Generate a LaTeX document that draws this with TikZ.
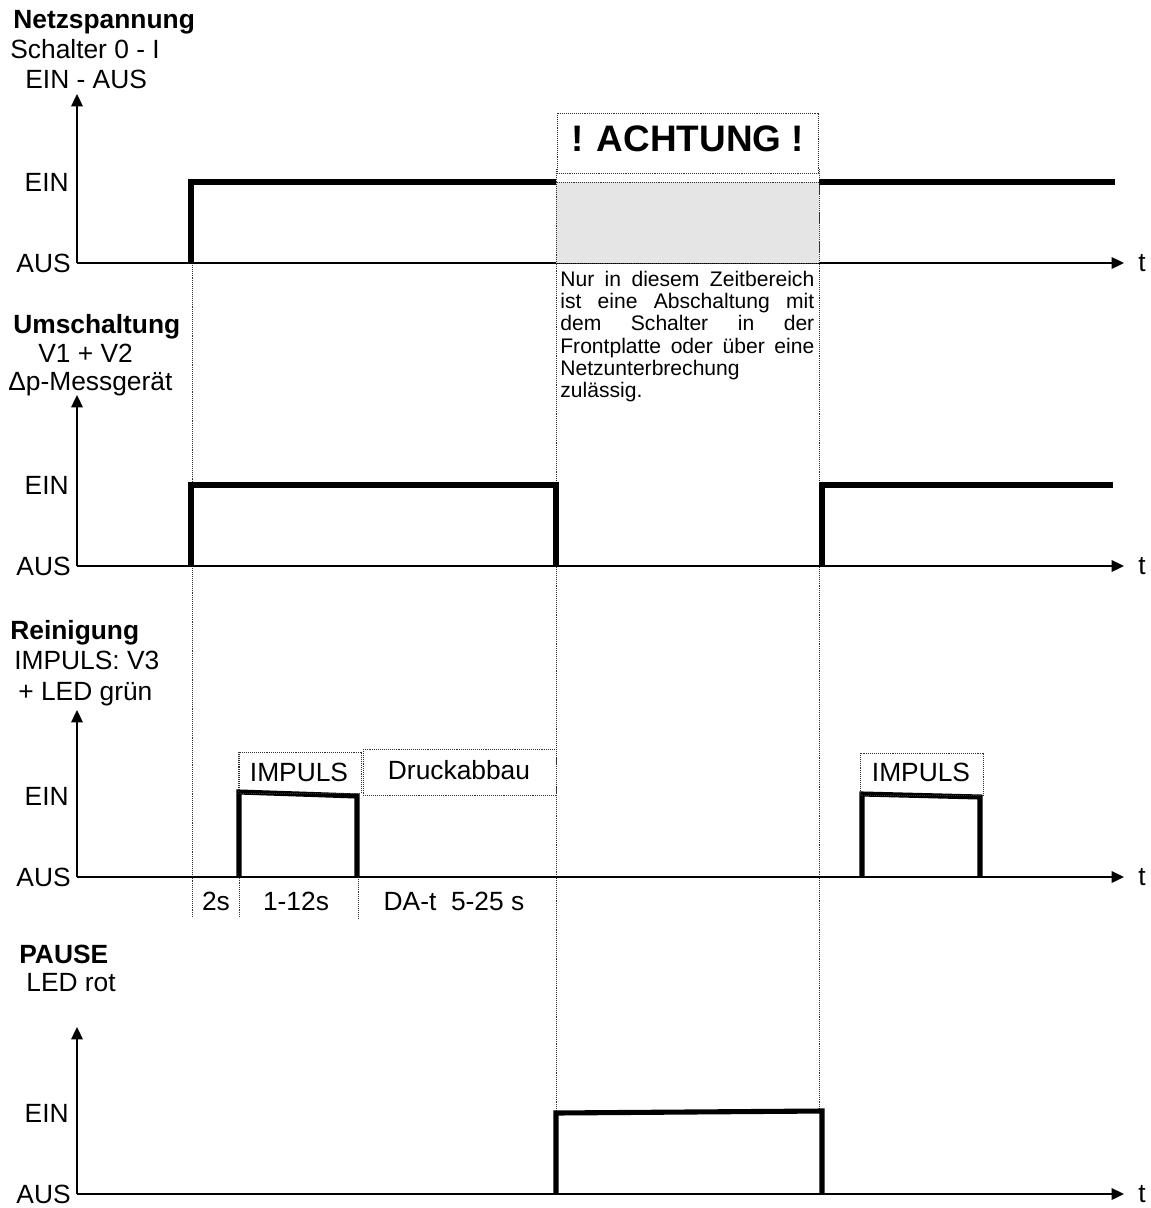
\documentclass[tikz,border=0pt]{standalone}
\usepackage{fontspec}
\setmainfont{Liberation Sans}
\usetikzlibrary{arrows.meta}

\begin{document}
\begin{tikzpicture}[x=0.02cm,y=-0.02cm,
    achse/.style={line width=1.1pt,-{Triangle[length=7pt,width=6.5pt]}},
    signal/.style={line width=2.9pt},
    hilfslinie/.style={line width=0.5pt,black!80,dash pattern=on 0.5pt off 0.6pt},
    gross/.style={inner sep=0pt,font=\fontsize{15}{17}\selectfont},
    titel/.style={inner sep=0pt,font=\fontsize{15}{17}\selectfont\bfseries},
    klein/.style={inner sep=0pt,font=\fontsize{12}{12.6}\selectfont}
]

\useasboundingbox (0,0) rectangle (1151,1208);

% Hilfslinien
\draw[hilfslinie] (192,263) -- (192,918);
\draw[hilfslinie] (239,752) -- (239,918);
\draw[hilfslinie] (358,877) -- (358,918);
\draw[hilfslinie] (556,169) -- (556,1113);
\draw[hilfslinie] (819,169) -- (819,1111);

% Achsen mit EIN / AUS / t
\foreach \aus/\oben [count=\i] in {263/94,566/395,877/710,1194/1027}{
    \draw[achse] (77,\aus) -- (77,\oben);
    \draw[achse] (77,\aus) -- (1124,\aus);
    \node[gross,anchor=east] (aus\i) at (71,\aus) {AUS};
    \node[gross,anchor=east] (ein\i) at (69,\aus-81) {EIN};
    \node[gross,anchor=west] (t\i) at (1138,\aus) {t};
}

% Netzspannung
\node[titel,anchor=base west] (netz) at (13,28) {Netzspannung};
\node[gross,anchor=base west] (netz2) at (10,58) {Schalter 0 - I};
\node[gross,anchor=base west] (netz3) at (25,88) {EIN - AUS};
\draw[signal] (191,263) -- (191,182) -- (556,182);
\draw[signal] (819,182) -- (1115,182);

% Achtung-Bereich
\draw[hilfslinie] (557,113) rectangle (818,173);
\node[inner sep=0pt,font=\fontsize{21}{24}\selectfont\bfseries] (achtung) at (687.5,139) {! ACHTUNG !};
\draw[hilfslinie,fill=black!10] (556,182) rectangle (819,263);
\node[klein,anchor=north west,text width=5.08cm,align=justify] (hinweis) at (560,271)
    {\noindent Nur in diesem Zeitbereich\linebreak ist eine Abschaltung mit\linebreak dem Schalter in der\linebreak Frontplatte oder über eine\linebreak Netzunterbrechung\\ zulässig.};

% Umschaltung
\node[titel,anchor=base west] (umsch) at (13,333) {Umschaltung};
\node[gross,anchor=base west] (umsch2) at (38,362) {V1 + V2};
\node[gross,anchor=base west] (umsch3) at (8,390) {Δp-Messgerät};
\draw[signal] (191,566) -- (191,485) -- (556,485) -- (556,566);
\draw[signal] (822,566) -- (822,485) -- (1113,485);

% Reinigung
\node[titel,anchor=base west] (rein) at (10,639) {Reinigung};
\node[gross,anchor=base west] (rein2) at (14,669) {IMPULS: V3};
\node[gross,anchor=base west] (rein3) at (18,700) {+ LED grün};
\draw[signal] (239,877) -- (239,792) -- (357,796) -- (357,877);
\draw[signal] (862,877) -- (862,794) -- (980,797) -- (980,877);
\draw[hilfslinie] (238,752) rectangle (361,793);
\node[gross] (impuls1) at (299,772) {IMPULS};
\draw[hilfslinie] (363,749) rectangle (556,795);
\node[gross] (druck) at (459,770) {Druckabbau};
\draw[hilfslinie] (860,753) rectangle (983,795);
\node[gross] (impuls2) at (921,772) {IMPULS};
\node[gross] (zeit1) at (216,901) {2s};
\node[gross] (zeit2) at (296,901) {1-12s};
\node[gross] (zeit3) at (454,901) {DA-t\ \ 5-25 s};

% Pause
\node[titel,anchor=base west] (pause) at (19,963) {PAUSE};
\node[gross,anchor=base west] (pause2) at (26,991) {LED rot};
\draw[signal] (556,1194) -- (556,1113) -- (822,1111) -- (822,1194);

\end{tikzpicture}
\end{document}
